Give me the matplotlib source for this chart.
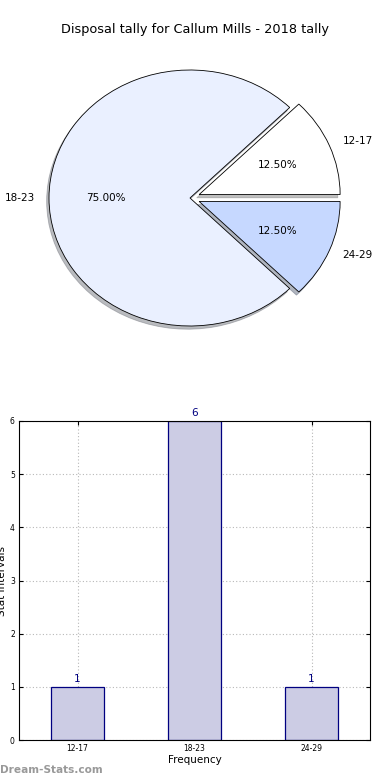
import matplotlib
matplotlib.use("Agg")
import matplotlib.pyplot as plt

categories = ["12-17", "18-23", "24-29"]
counts = [1, 6, 1]
pie_colors = ["#ffffff", "#eaf0ff", "#c6d8ff"]
explode = [0.07, 0.0, 0.07]
yticks = [0, 1, 2, 3, 4, 5, 6]

fig = plt.figure(figsize=(3.9, 7.8), dpi=100)
fig.text(0.5, 1 - 30/780, "Disposal tally for Callum Mills - 2018 tally",
         ha="center", va="center", fontsize=9.3)

ax1 = fig.add_axes([13.75/390, 1 - 358/780, 352.5/390, 320/780])
wedges, texts, autotexts = ax1.pie(counts, labels=categories, colors=pie_colors,
                                   explode=explode, autopct="%1.2f%%",
                                   shadow={"ox": -0.012, "oy": -0.018, "shade": 0.5},
                                   startangle=0, labeldistance=1.1, pctdistance=0.6,
                                   wedgeprops=dict(edgecolor="black", linewidth=0.6),
                                   textprops=dict(fontsize=7.5))
ax1.set_aspect("auto")
ax1.set_xlim(-1.25, 1.25)
ax1.set_ylim(-1.25, 1.25)

ax2 = fig.add_axes([19/390, 40/780, 351/390, 319/780])
x = list(range(len(categories)))
bars = ax2.bar(x, counts, width=0.45, color="#ccccE4", edgecolor="#000080", linewidth=0.9, zorder=2)
for xi, c in zip(x, counts):
    ax2.text(xi, c + 0.06, str(c), ha="center", va="bottom", color="#000080", fontsize=7.5)
ax2.set_xlim(-0.5, 2.5)
ax2.set_ylim(0, 6)
ax2.set_xticks(x)
ax2.set_xticklabels(categories)
ax2.set_yticks(yticks)
ax2.tick_params(axis="both", labelsize=5.5, direction="in", top=True, right=True, length=3, pad=3)
ax2.grid(True, linestyle=(0, (1, 2)), color="#b8b8b8", linewidth=0.8, zorder=0)
ax2.set_axisbelow(True)
ax2.set_xlabel("Frequency", fontsize=7.5, labelpad=1)
ax2.set_ylabel("Stat Intervals", fontsize=7.5, labelpad=2)
for s in ax2.spines.values():
    s.set_linewidth(0.8)

fig.text(0.0, 1 - 770/780, "Dream-Stats.com", ha="left", va="center",
         fontsize=7.6, color="#999999", fontweight="bold")

fig.savefig("out.png", dpi=100)
